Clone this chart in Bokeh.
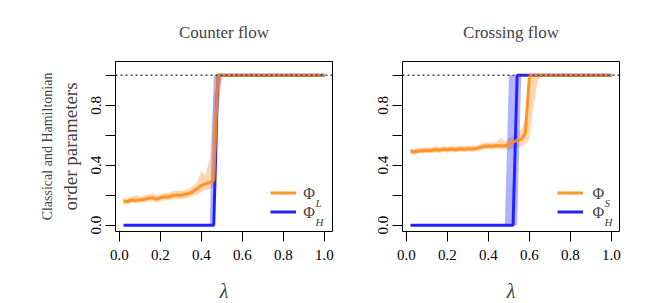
from bokeh.plotting import figure
from bokeh.layouts import row
from bokeh.models import (Range1d, FixedTicker, PrintfTickFormatter, Span, Legend,
                          LegendItem, Label, LinearAxis, ColumnDataSource)
from bokeh.embed import file_html
from bokeh.resources import INLINE

# ---------------- data ----------------
lam = [0.02, 0.04, 0.06, 0.08, 0.10, 0.12, 0.14, 0.16, 0.18, 0.20,
       0.22, 0.24, 0.26, 0.28, 0.30, 0.32, 0.34, 0.36, 0.38, 0.40,
       0.42, 0.44, 0.46, 0.48, 0.50, 0.52, 0.54, 0.56, 0.58, 0.60,
       0.62, 0.64, 0.66, 0.68, 0.70, 0.72, 0.74, 0.76, 0.78, 0.80,
       0.82, 0.84, 0.86, 0.88, 0.90, 0.92, 0.94, 0.96, 0.98, 1.00]

# Counter flow: Phi_L (classical) and Phi_H (Hamiltonian)
counter_L = [0.160, 0.158, 0.168, 0.165, 0.170, 0.172, 0.180, 0.184, 0.172, 0.182,
             0.190, 0.188, 0.198, 0.202, 0.200, 0.206, 0.212, 0.226, 0.245, 0.266,
             0.276, 0.285, 0.300] + [1.0] * 27
counter_L_lo = [0.140, 0.138, 0.148, 0.146, 0.150, 0.152, 0.158, 0.162, 0.150, 0.160,
                0.166, 0.164, 0.172, 0.176, 0.174, 0.178, 0.182, 0.194, 0.205, 0.222,
                0.235, 0.240, 0.255, 0.900] + [1.0] * 26
counter_L_hi = [0.182, 0.180, 0.190, 0.200, 0.192, 0.196, 0.205, 0.215, 0.196, 0.206,
                0.216, 0.214, 0.226, 0.230, 0.228, 0.236, 0.244, 0.262, 0.290, 0.360,
                0.330, 0.450, 0.850] + [1.0] * 27
counter_H = [0.0] * 23 + [1.0] * 27
counter_H_lo = [0.0] * 23 + [0.75] + [1.0] * 26
counter_H_hi = [0.0] * 22 + [1.0] * 28

# Crossing flow: Phi_S (classical) and Phi_H (Hamiltonian)
crossing_S = [0.493, 0.490, 0.495, 0.497, 0.500, 0.497, 0.505, 0.500, 0.507, 0.503,
              0.508, 0.503, 0.510, 0.506, 0.510, 0.508, 0.512, 0.518, 0.527, 0.528,
              0.527, 0.531, 0.528, 0.530, 0.540, 0.555, 0.565, 0.572, 0.612] + [1.0] * 21
crossing_S_lo = [0.475, 0.472, 0.477, 0.478, 0.481, 0.479, 0.486, 0.482, 0.488, 0.485,
                 0.489, 0.485, 0.491, 0.488, 0.491, 0.489, 0.493, 0.498, 0.506, 0.507,
                 0.506, 0.510, 0.506, 0.505, 0.505, 0.510, 0.515, 0.525, 0.540, 0.580,
                 0.800, 0.960, 0.995] + [1.0] * 17
crossing_S_hi = [0.512, 0.510, 0.515, 0.518, 0.520, 0.518, 0.525, 0.520, 0.528, 0.523,
                 0.528, 0.524, 0.530, 0.527, 0.531, 0.530, 0.533, 0.540, 0.550, 0.552,
                 0.550, 0.555, 0.585, 0.560, 0.580, 0.600, 0.615, 0.640, 0.700] + [1.0] * 21
crossing_H = [0.0] * 26 + [1.0] * 24
crossing_H_lo = [0.0] * 27 + [1.0] * 23
crossing_H_hi = [0.0] * 24 + [1.0] * 26

titles = ["Counter flow", "Crossing flow"]
x_ticks = [0.0, 0.2, 0.4, 0.6, 0.8, 1.0]
y_major = [0.0, 0.4, 0.8]
y_minor = [0.2, 0.6, 1.0]

ORANGE = "#FF8C1A"
BLUE = "#2222FF"
SERIF = "Liberation Serif"


def panel(title, cls, cls_lo, cls_hi, ham, ham_lo, ham_hi, sub_c, left_border,
          right_border, ylabel, phi_x, sub_x):
    p = figure(frame_width=217, frame_height=170, output_backend="svg",
               toolbar_location=None,
               x_range=Range1d(-0.0192, 1.0392), y_range=Range1d(-0.042, 1.092),
               min_border_left=left_border, min_border_right=right_border,
               min_border_top=60, min_border_bottom=73)
    p.grid.visible = False
    p.outline_line_color = "black"
    p.outline_line_width = 1
    p.background_fill_color = "white"
    p.border_fill_color = "white"

    p.title.text = title
    p.title.align = "center"
    p.title.text_font = SERIF
    p.title.text_font_size = "17px"
    p.title.text_font_style = "normal"
    p.title.standoff = 40

    src = ColumnDataSource(dict(x=lam, c=cls, clo=cls_lo, chi=cls_hi,
                                h=ham, hlo=ham_lo, hhi=ham_hi))
    p.varea(x="x", y1="clo", y2="chi", source=src, fill_color="#FF9933", fill_alpha=0.4)
    p.varea(x="x", y1="hlo", y2="hhi", source=src, fill_color="#5555FF", fill_alpha=0.45)
    bl = p.line("x", "h", source=src, line_color=BLUE, line_width=3)
    ol = p.line("x", "c", source=src, line_color=ORANGE, line_width=3, line_alpha=0.9)

    p.add_layout(Span(location=1.0, dimension="width", line_color="#444444",
                      line_dash="2 3", line_width=1.5))

    # axes
    p.xaxis.ticker = FixedTicker(ticks=x_ticks)
    p.xaxis.formatter = PrintfTickFormatter(format="%.1f")
    p.yaxis.ticker = FixedTicker(ticks=y_major, minor_ticks=y_minor)
    p.yaxis.formatter = PrintfTickFormatter(format="%.1f")
    p.yaxis.major_label_orientation = "vertical"
    for ax in (p.xaxis, p.yaxis):
        ax.axis_line_color = None
        ax.major_tick_out = 10
        ax.major_tick_in = 0
        ax.major_tick_line_color = "black"
        ax.major_label_text_font = SERIF
        ax.major_label_text_font_size = "15px"
        ax.major_label_text_color = "black"
    p.yaxis.minor_tick_out = 10
    p.yaxis.minor_tick_in = 0
    p.yaxis.minor_tick_line_color = "black"
    p.xaxis.minor_tick_line_color = None
    p.xaxis.major_label_standoff = 8
    p.yaxis.major_label_standoff = 4

    p.xaxis.axis_label = "λ"
    p.xaxis.axis_label_text_font = SERIF
    p.xaxis.axis_label_text_font_style = "italic"
    p.xaxis.axis_label_text_font_size = "20px"
    p.xaxis.axis_label_standoff = 17

    if ylabel:
        p.yaxis.axis_label = ylabel[1]
        p.yaxis.axis_label_text_font = SERIF
        p.yaxis.axis_label_text_font_style = "normal"
        p.yaxis.axis_label_text_font_size = "19px"
        p.yaxis.axis_label_standoff = 8
        extra = LinearAxis(axis_label=ylabel[0], ticker=FixedTicker(ticks=[]),
                           axis_line_color=None, major_tick_out=0, major_tick_in=0,
                           minor_tick_out=0, minor_tick_in=0,
                           major_label_text_font_size="1px",
                           axis_label_text_font=SERIF, axis_label_text_font_size="14px",
                           axis_label_text_font_style="normal", axis_label_standoff=2)
        p.add_layout(extra, "left")

    # legend: keys via Legend, symbol text via labels
    legend = Legend(items=[LegendItem(label="Φ", renderers=[ol]),
                           LegendItem(label="Φ", renderers=[bl])],
                    location=(155, 10), orientation="vertical", padding=0, margin=0,
                    spacing=0, glyph_width=26, glyph_height=19, label_height=19,
                    label_standoff=7, border_line_alpha=0, background_fill_alpha=0,
                    label_text_font=SERIF, label_text_font_size="15px",
                    label_text_alpha=0)
    p.add_layout(legend)

    for yy in (0.211, 0.084):
        p.add_layout(Label(x=phi_x, y=yy, text="Φ", text_font=SERIF,
                           text_font_size="16px", text_baseline="middle",
                           text_align="left"))
    for txt, yy in ((sub_c, 0.150), ("H", 0.023)):
        p.add_layout(Label(x=sub_x, y=yy, text=txt, text_font=SERIF,
                           text_font_style="italic", text_font_size="11px",
                           text_baseline="alphabetic", text_align="left"))
    return p


p1 = panel(titles[0], counter_L, counter_L_lo, counter_L_hi,
           counter_H, counter_H_lo, counter_H_hi, "L", 115, 8,
           ("Classical and Hamiltonian", "order parameters"), 0.897, 0.956)
p2 = panel(titles[1], crossing_S, crossing_S_lo, crossing_S_hi,
           crossing_H, crossing_H_lo, crossing_H_hi, "S", 62, 34, None, 0.908, 0.966)

layout = row(p1, p2)
open("out.html", "w").write(file_html(layout, INLINE))
